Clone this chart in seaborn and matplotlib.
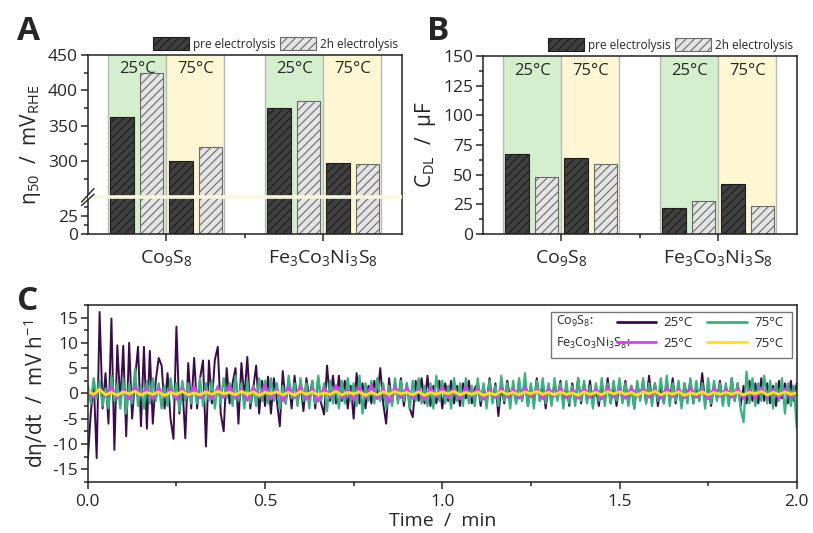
import numpy as np
import pandas as pd
import matplotlib
matplotlib.use("Agg")
import matplotlib.pyplot as plt
from matplotlib.patches import Patch, Rectangle
from matplotlib.lines import Line2D
from matplotlib.ticker import MultipleLocator, FixedLocator
import seaborn as sns

# ---------------- data ----------------
materials = ["Co$_9$S$_8$", "Fe$_3$Co$_3$Ni$_3$S$_8$"]
conditions = ["25 pre", "25 2h", "75 pre", "75 2h"]
temps = ["25°C", "75°C"]

# overpotential at 50 mA (mV_RHE): 25 pre, 25 2h, 75 pre, 75 2h
eta50_co = [363, 425, 301, 321]
eta50_fe = [375, 385, 298, 297]
# double layer capacitance (uF)
cdl_co = [67, 48, 64, 59]
cdl_fe = [22, 28, 42, 24]

# d eta / dt (mV h-1) over 2 min
co_25 = [
    -13, -4, 2.5, -12.8, 16.1, -3, 4, -6, 14.8, -11.2, 9.5, -2,
    9.4, -8.5, 10, -5, 3, 9.2, -6.5, 9.2, -7, 8.4, -6, 2.5,
    7, 5.5, -3, 4, -5, -9, 13.2, -4, 2, -8.9, 6, -3,
    7, -3, 3, 6.5, -10.5, 6.5, -2, 6.6, 9.2, -4, -7.5, 5,
    -2, 2, 5, -6, 6, -1, 7.2, -3, 1, 5.5, -4, 2.5,
    -2.5, 3.3, -4, 3, -1.5, -6.5, 4.4, -2, 2.5, -3, 3.5, -2,
    2, -3.5, 3, -1, 2.5, -3, 3.2, -2, -4.2, 5.5, -1.5, 3.5,
    -2, 3.5, -1.5, 2.5, -3, 1.5, -5, 4, -2, 2, -3, 1.5,
    -2, 2.5, -1, 5, -2, -6, 3, -2, 2, -1.5, 3, -2.5,
    2, -3, -4.7, 2.5, -1.5, 3, -2, 3.5, -2.5, 1.5, -2, 2.5,
    -3, 2, -1.5, 2.5, -2, 1.5, -2.5, 2, -1, 2.5, -2, 1,
    2, -2.5, 1.5, -2, 3, -1.5, 2, -4.5, 1.5, -2, 2.5, -1,
    1.5, -2, 2.5, -1.5, 2, -2.5, 1.5, -2, 3, -1.5, 2, -3,
    1.5, -2, 2, -1, 2.5, -2, 1.5, -2.5, 2, -1.5, 3, -2,
    2, -1.5, 2.5, -2, 1, -2.5, 2, -1.5, 3, -2, 1.5, -2.5,
    2, -1.5, 2.5, -2, 1.5, -3, 2, -1, 2.5, -2, 3.5, -1.5,
    2, -2.5, 1.5, -2, 2.5, -1.5, 3, -2, 1.5, -2.5, 2, -1,
    2.5, -2, 1.5, -1.5, 4, -2, 2, -2.5, 1.5, -1, 2.5, -2,
    1.5, -2, 3, -1.5, 2, -2.5, 1.5, -2, 2.5, -1.5, 2, -2,
    3, -1.5, 2, -2, 1.5, -2.5, 2.5, -1, 2, -2, 2.5, -1.5,
    2,
]
co_75 = [
    1.5, -2, 3, -1, 2.5, -2.5, 1, -3, 3.5, -1.5, 2, -3,
    3, -4, 2, -2, 4.9, -2.5, 1.5, -3, 2.5, -2, 3, -1.5,
    2, -3, 1.5, -2.5, 3, -1, 2, -3.5, 2.5, -1.5, 2, -2,
    1.5, -2, 3, -2.5, 2, -1.5, 2.5, -3, 1.5, -2, 3, -1,
    2, -2.5, 3.5, -1.5, 2, -3, 2.5, -2, 1.5, -2.5, 3, -1.5,
    2.5, -2, 3, -1.5, 2, -3, 1.5, -2, 3.5, -1, 2, -2.5,
    3, -1.5, 2, -3, 2.5, -2, 3.5, -1.5, 2, -3.5, 2.5, -2,
    1.5, -3, 2.5, -2, 3, -1.5, 2, -2.5, 3.5, -4, 2, -1.5,
    2.5, -2, 3, -1.5, 2, -3, 1.5, -2.5, 3, -2, 2.5, -1.5,
    2, -3, 2.5, -1.5, 3, -2, 1.5, -2.5, 2, -3, 3.5, -1.5,
    2.5, -2, 1.5, -3, 3, -1.5, 2, -2.5, 3, -2, 1.5, -2.5,
    3, -1.5, 2, -3, 2.5, -2, 1.5, -2.5, 3.5, -1.5, 2, -3,
    2.5, -2, 3, -1.5, 4, -2.5, 2, -3, 2.5, -1.5, 3, -2,
    2, -2.5, 3, -1.5, 2, -3, 2.5, -2, 1.5, -2.5, 3, -1.5,
    2.5, -2, 1.5, -3, 2, -1.5, 3, -2.5, 2, -2, 2.5, -1.5,
    3, -2, 2, -2.5, 1.5, -3, 2.5, -1.5, 3, -2, 2, -2.5,
    2, -1.5, 3, -2, 3.5, -2.5, 2, -1.5, 2.5, -3, 2, -2,
    3, -2, 2.5, -1.5, 2, -3, 3, -2, 2.5, -1.5, 2, -2.5,
    2, -2.5, 3, -1.5, 2, -3, -5.7, 4.3, -2, 3, -2.5, 2,
    -1.5, 3.5, -2, 2.5, -3, 2, -1.5, 3, -4, 2, -2.5, 1.5,
    -6.8,
]
fe_25 = [
    0.5, -0.8, 1.0, -0.6, 1.2, -0.9, 0.7, -1.1, 1.3, -0.5, 0.9, -1.0,
    1.1, -0.7, 0.8, -1.2, 1.0, -0.6, 1.4, -0.9, 0.7, -1.1, 1.2, -0.8,
    1.5, -1.0, 0.9, -1.4, 1.2, -0.7, 1.6, -1.1, 0.8, -1.5, 1.3, -0.9,
    1.4, -1.2, 0.9, -1.6, 1.1, -0.8, 1.5, -1.0, 0.7, -1.3, 1.2, -0.9,
    1.6, -1.1, 1.0, -1.8, 1.3, -0.9, 1.2, -1.0, 0.8, -1.3, 1.1, -0.7,
    1.2, -0.9, 0.8, -1.1, 1.3, -0.6, 1.0, -1.2, 0.7, -0.9, 1.1, -0.8,
    0.9, -1.0, 1.2, -0.7, 0.8, -1.1, 1.0, -0.6, 1.1, -0.9, 0.7, -1.0,
    1.0, -0.8, 0.9, -1.1, 1.2, -0.7, 0.8, -1.0, 1.1, -0.6, 0.9, -0.8,
    0.8, -1.0, 1.1, -0.7, 0.9, -0.9, 1.2, -0.8, 0.7, -1.1, 1.0, -0.6,
    0.9, -0.8, 1.0, -1.0, 0.7, -0.9, 1.1, -0.7, 0.8, -1.0, 0.9, -0.8,
    0.5,
]
fe_75 = [
    0.3, -0.2, 0.8, -0.3, 0.2, -0.4, 0.3, -0.1, 0.4, -0.3, 0.2, -0.2,
    0.3, -0.4, 0.2, -0.2, 0.4, -0.3, 0.1, -0.3, 0.3, -0.2, 0.4, -0.1,
    0.2, -0.3, 0.4, -0.2, 0.3, -0.4, 0.2, -0.1, 0.3, -0.3, 0.2, -0.4,
    0.4, -0.2, 0.3, -0.3, 0.1, -0.2, 0.4, -0.3, 0.2, -0.1, 0.3, -0.4,
    0.2, -0.3, 0.3, -0.2, 0.4, -0.1, 0.2, -0.3, 0.3, -0.4, 0.2, -0.2,
    0.3, -0.1, 0.4, -0.3, 0.2, -0.2, 0.3, -0.4, 0.1, -0.3, 0.4, -0.2,
    0.2, -0.3, 0.3, -0.1, 0.4, -0.2, 0.2, -0.3, 0.3, -0.2, 0.1, -0.4,
    0.3, -0.2, 0.2, -0.3, 0.4, -0.1, 0.3, -0.2, 0.2, -0.4, 0.3, -0.1,
    0.4, -0.3, 0.2, -0.2, 0.3, -0.4, 0.1, -0.2, 0.3, -0.3, 0.2, -0.2,
    0.2, -0.2, 0.3, -0.3, 0.2, -0.1, 0.4, -0.3, 0.2, -0.2, 0.3, -0.2,
    0.1,
]

# ---------------- style ----------------
sns.set_theme(style="ticks")
plt.rcParams["font.family"] = ["Open Sans", "DejaVu Sans"]
plt.rcParams["mathtext.fontset"] = "custom"
plt.rcParams["mathtext.rm"] = "Open Sans"
plt.rcParams["mathtext.it"] = "Open Sans:italic"
plt.rcParams["mathtext.default"] = "regular"
plt.rcParams["hatch.linewidth"] = 0.8
plt.rcParams["axes.linewidth"] = 1.1
plt.rcParams["axes.edgecolor"] = "#222222"

dark = "#3f3f3f"
light = "#e4e4e4"
green_bg = "#d3efcd"
yellow_bg = "#fff7d3"
fs_tick = 12.5

fig = plt.figure(figsize=(8.13, 5.33), dpi=100)
axA = fig.add_axes([0.108, 0.561, 0.386, 0.336])
axB = fig.add_axes([0.594, 0.561, 0.386, 0.334])
axC = fig.add_axes([0.108, 0.096, 0.872, 0.332])


def fwd(y):
    y = np.asarray(y, dtype=float)
    return np.where(y <= 50, y, np.where(y >= 250, y - 198, 50 + (y - 50) * 0.01))


def inv(t):
    t = np.asarray(t, dtype=float)
    return np.where(t <= 50, t, np.where(t >= 52, t + 198, 50 + (t - 50) * 100))


def bar_panel(ax, vals_co, vals_fe, text_y):
    df = pd.DataFrame({
        "material": np.repeat(materials, 4),
        "condition": conditions * 2,
        "value": vals_co + vals_fe,
    })
    sns.barplot(data=df, x="material", y="value", hue="condition",
                order=materials, hue_order=conditions,
                palette=[dark, light, dark, light], saturation=1,
                width=0.75, gap=0.2, errorbar=None, legend=False, ax=ax)
    edges = ["#1e1e1e", "#6a6a6a", "#1e1e1e", "#6a6a6a"]
    for i, cont in enumerate(ax.containers):
        for p in cont:
            p.set_hatch("////")
            p.set_edgecolor(edges[i])
            p.set_linewidth(0.8)
            p.set_zorder(2)
    for c in range(len(materials)):
        ax.axvspan(c - 0.37, c, color=green_bg, lw=0, zorder=0)
        ax.axvspan(c, c + 0.37, color=yellow_bg, lw=0, zorder=0)
        for xe in (c - 0.37, c, c + 0.37):
            ax.axvline(xe, color="#b8b8b8", lw=1, zorder=0.5)
        for k, tl in enumerate(temps):
            ax.text(c - 0.185 + 0.37 * k, text_y, tl, transform=ax.get_xaxis_transform(),
                    ha="center", va="center", fontsize=12, zorder=3)
    ax.set_xlim(-0.5, 1.5)
    ax.set_xlabel("")
    ax.xaxis.set_minor_locator(FixedLocator([0.5]))
    ax.tick_params(axis="x", labelsize=14, length=5, width=1.1, pad=5)
    ax.tick_params(axis="x", which="minor", length=3, width=1.1)
    ax.tick_params(axis="y", labelsize=fs_tick, length=5, width=1.1, pad=2)
    ax.tick_params(axis="y", which="minor", length=3, width=1.1, left=True)
    leg_handles = [Patch(facecolor=dark, edgecolor="#1e1e1e", hatch="////", lw=0.8),
                   Patch(facecolor=light, edgecolor="#6a6a6a", hatch="////", lw=0.8)]
    ax.legend(leg_handles, ["pre electrolysis", "2h electrolysis"], ncol=2,
              loc="lower right", bbox_to_anchor=(1.01, 0.985), frameon=False,
              fontsize=8.5, handlelength=3.0, handleheight=1.35,
              handletextpad=0.35, columnspacing=0.4, borderpad=0.1)


# ---------------- panel A ----------------
bar_panel(axA, eta50_co, eta50_fe, 0.92)
axA.set_yscale("function", functions=(fwd, inv))
axA.set_ylim(0, 450)
axA.yaxis.set_major_locator(FixedLocator([0, 25, 300, 350, 400, 450]))
axA.yaxis.set_minor_locator(FixedLocator([12.5, 37.5, 275, 325, 375, 425]))
axA.set_yticklabels(["0", "25", "300", "350", "400", "450"])
axA.yaxis.set_minor_formatter(plt.NullFormatter())
axA.set_ylabel("η$_{50}$  /  mV$_{RHE}$", fontsize=15, labelpad=4)
axA.axhline(250, color="#fbf8df", lw=2.6, zorder=4)
brk = axA.get_yaxis_transform()
axA.plot([-0.02, 0.02], [40, 254], transform=brk, color="#222222", lw=1, clip_on=False, zorder=6)
axA.plot([-0.02, 0.02], [45, 262], transform=brk, color="#222222", lw=1, clip_on=False, zorder=6)

# ---------------- panel B ----------------
bar_panel(axB, cdl_co, cdl_fe, 0.915)
axB.set_ylim(0, 150)
axB.yaxis.set_major_locator(MultipleLocator(25))
axB.yaxis.set_minor_locator(MultipleLocator(12.5))
axB.set_ylabel("C$_{DL}$  /  µF", fontsize=15, labelpad=4)

# ---------------- panel C ----------------
series = [
    ("Co 25", co_25, "#3b0a4e", 1.4),
    ("Co 75", co_75, "#33b57c", 1.6),
    ("Fe 25", fe_25, "#dd3cf5", 1.9),
    ("Fe 75", fe_75, "#ffe20f", 2.0),
]
for name, vals, col, lw in series:
    d = pd.DataFrame({"time": np.linspace(0, 2, len(vals)), "rate": vals})
    sns.lineplot(data=d, x="time", y="rate", color=col, lw=lw, ax=axC, estimator=None)

axC.set_xlim(0, 2.0)
axC.set_ylim(-17.5, 17.5)
axC.xaxis.set_major_locator(MultipleLocator(0.5))
axC.xaxis.set_minor_locator(MultipleLocator(0.25))
axC.yaxis.set_major_locator(MultipleLocator(5))
axC.yaxis.set_minor_locator(MultipleLocator(2.5))
axC.xaxis.set_major_formatter(matplotlib.ticker.FormatStrFormatter("%.1f"))
axC.yaxis.set_major_formatter(matplotlib.ticker.FuncFormatter(lambda v, p: f"{v:.0f}"))
axC.tick_params(axis="both", labelsize=fs_tick, length=5, width=1.1, pad=2)
axC.tick_params(axis="both", which="minor", length=3, width=1.1, left=True, bottom=True)
axC.tick_params(axis="x", pad=4)
axC.set_xlabel("Time  /  min", fontsize=14, labelpad=1)
axC.set_ylabel("dη/dt  /  mV h$^{-1}$", fontsize=15, labelpad=2)

# legend box
axC.add_patch(Rectangle((0.654, 0.70), 0.34, 0.26, transform=axC.transAxes,
                        facecolor="white", edgecolor="#777777", lw=1, zorder=5))
axC.text(0.66, 0.905, "Co$_9$S$_8$:", transform=axC.transAxes, fontsize=9,
         va="center", ha="left", zorder=6)
axC.text(0.66, 0.78, "Fe$_3$Co$_3$Ni$_3$S$_8$:", transform=axC.transAxes, fontsize=9,
         va="center", ha="left", zorder=6)
lh = [Line2D([], [], color=s[2], lw=2) for s in series]
lab = ["25°C", "25°C", "75°C", "75°C"]
leg = axC.legend([lh[0], lh[2], lh[1], lh[3]], lab, ncol=2, loc="upper right",
                 bbox_to_anchor=(0.996, 0.995), frameon=False, fontsize=9.5,
                 handlelength=3.0, handletextpad=0.55, columnspacing=1.1,
                 labelspacing=0.55, borderpad=0.3)
leg.set_zorder(7)

for ax in (axA, axB, axC):
    for s in ax.spines.values():
        s.set_linewidth(1.1)

# panel letters
fig.text(0.021, 0.925, "A", fontsize=24, fontweight="bold")
fig.text(0.525, 0.925, "B", fontsize=24, fontweight="bold")
fig.text(0.021, 0.418, "C", fontsize=24, fontweight="bold")

fig.savefig("out.png", dpi=100)
